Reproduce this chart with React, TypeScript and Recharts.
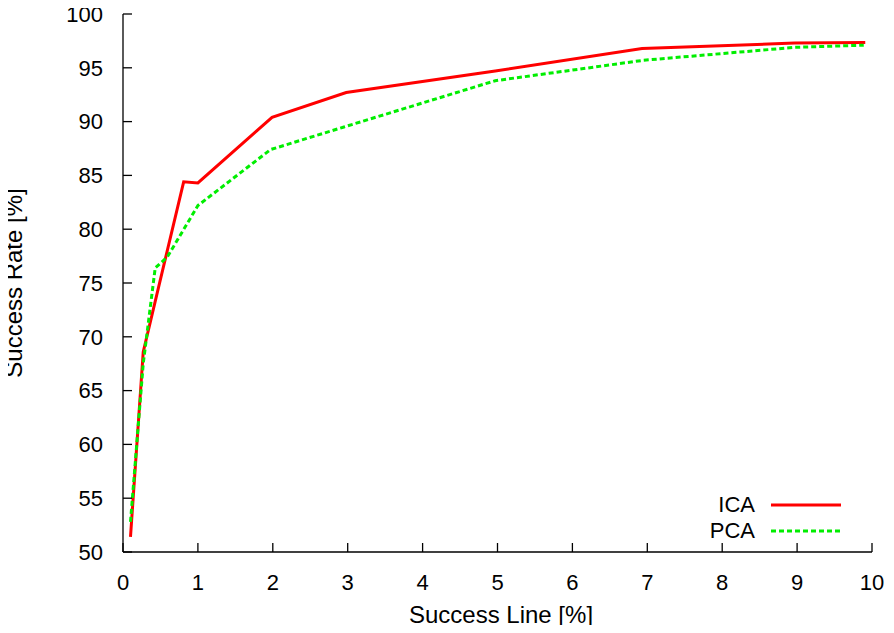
import { LineChart, Line, XAxis, YAxis, Legend, Label } from "recharts";

const icaX = [0.1, 0.27, 0.43, 0.81, 1.0, 1.99, 2.98, 4.97, 6.93, 8.97, 9.91];
const icaY = [51.4, 68.6, 73.3, 84.4, 84.3, 90.4, 92.7, 94.7, 96.8, 97.3, 97.35];
const pcaX = [0.1, 0.27, 0.43, 0.59, 1.0, 1.97, 2.95, 4.97, 6.95, 8.97, 9.89];
const pcaY = [52.8, 67.5, 76.4, 77.4, 82.2, 87.4, 89.5, 93.8, 95.7, 96.9, 97.1];

const xTicks = [0, 1, 2, 3, 4, 5, 6, 7, 8, 9, 10];
const yTicks = [50, 55, 60, 65, 70, 75, 80, 85, 90, 95, 100];

const icaData = icaX.map((x, i) => ({ x, y: icaY[i] }));
const pcaData = pcaX.map((x, i) => ({ x, y: pcaY[i] }));

const FONT = "'Liberation Sans', Arial, Helvetica, sans-serif";
const tickStyle = { fontSize: 22, fill: "#000", fontFamily: FONT };
const axisLine = { stroke: "#000", strokeWidth: 1.3 };

function KeyBox({ payload }: any) {
  return (
    <div style={{ width: 150, fontFamily: FONT, fontSize: 22, color: "#000" }}>
      {(payload || []).map((p: any) => (
        <div
          key={p.value}
          style={{ display: "flex", justifyContent: "flex-end", alignItems: "center", height: 26 }}
        >
          <span style={{ marginRight: 16 }}>{p.value}</span>
          <svg width={70} height={6}>
            <line
              x1={0}
              y1={3}
              x2={70}
              y2={3}
              stroke={p.color}
              strokeWidth={3}
              strokeDasharray={p.payload?.strokeDasharray}
            />
          </svg>
        </div>
      ))}
    </div>
  );
}

export default function App() {
  return (
    <div style={{ margin: -8, width: 894, height: 633 }}>
      <LineChart
        width={894}
        height={633}
        margin={{ top: 14, right: 22, left: 0, bottom: 0 }}
        style={{ fontFamily: FONT }}
      >
        <XAxis
          xAxisId="b"
          dataKey="x"
          type="number"
          domain={[0, 10]}
          ticks={xTicks}
          height={81}
          tick={tickStyle}
          tickSize={-9}
          tickMargin={31}
          axisLine={axisLine}
          tickLine={axisLine}
          allowDuplicatedCategory={false}
        >
          <Label
            content={() => (
              <text x={501} y={623} textAnchor="middle" fontSize={24} fontFamily={FONT} fill="#000">
                Success Line [%]
              </text>
            )}
          />
        </XAxis>
        <XAxis
          xAxisId="t"
          orientation="top"
          dataKey="x"
          type="number"
          domain={[0, 10]}
          ticks={xTicks}
          height={0}
          tick={false}
          tickSize={-9}
          axisLine={axisLine}
          tickLine={axisLine}
        />
        <YAxis
          yAxisId="l"
          type="number"
          domain={[50, 100]}
          ticks={yTicks}
          width={123}
          tick={tickStyle}
          tickSize={-9}
          tickMargin={29}
          axisLine={axisLine}
          tickLine={axisLine}
        >
          <Label
            content={() => (
              <text
                x={22}
                y={283}
                transform="rotate(-90 22 283)"
                textAnchor="middle"
                fontSize={24}
                fontFamily={FONT}
                fill="#000"
              >
                Success Rate [%]
              </text>
            )}
          />
        </YAxis>
        <YAxis
          yAxisId="r"
          orientation="right"
          type="number"
          domain={[50, 100]}
          ticks={yTicks}
          width={0}
          tick={false}
          tickSize={-9}
          axisLine={axisLine}
          tickLine={axisLine}
        />
        <Legend
          layout="horizontal"
          verticalAlign="middle"
          content={<KeyBox />}
          wrapperStyle={{ left: 691, top: 492, width: 150 }}
        />
        <Line
          xAxisId="b"
          yAxisId="l"
          data={icaData}
          dataKey="y"
          name="ICA"
          stroke="#ff0000"
          strokeWidth={3}
          dot={false}
          activeDot={false}
          type="linear"
          isAnimationActive={false}
        />
        <Line
          xAxisId="b"
          yAxisId="l"
          data={pcaData}
          dataKey="y"
          name="PCA"
          stroke="#00ee00"
          strokeWidth={3}
          strokeDasharray="5 3"
          dot={false}
          activeDot={false}
          type="linear"
          isAnimationActive={false}
        />
      </LineChart>
    </div>
  );
}
